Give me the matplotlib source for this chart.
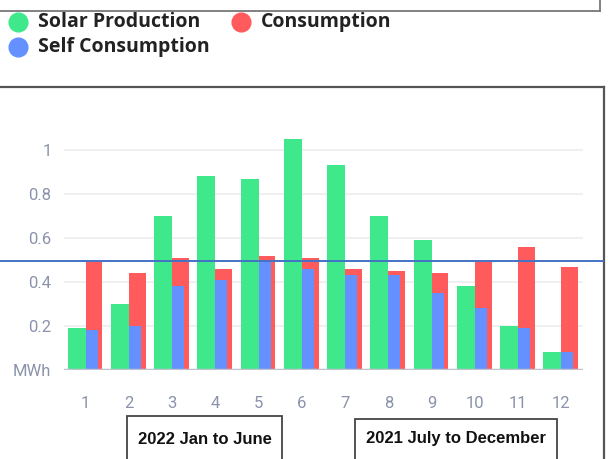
import numpy as np
import matplotlib
matplotlib.use('Agg')
import matplotlib.pyplot as plt
from matplotlib.lines import Line2D
from matplotlib.patches import Rectangle
import matplotlib.transforms as mtransforms

# data (MWh per month)
months = ['1', '2', '3', '4', '5', '6', '7', '8', '9', '10', '11', '12']
solar = [0.19, 0.30, 0.70, 0.88, 0.87, 1.05, 0.93, 0.70, 0.59, 0.38, 0.20, 0.08]
consumption = [0.49, 0.44, 0.51, 0.46, 0.52, 0.51, 0.46, 0.45, 0.44, 0.49, 0.56, 0.47]
self_cons = [0.18, 0.20, 0.38, 0.41, 0.49, 0.46, 0.43, 0.43, 0.35, 0.28, 0.19, 0.08]
y_ticks = [0, 0.2, 0.4, 0.6, 0.8, 1.0]
y_labels = ['MWh', '0.2', '0.4', '0.6', '0.8', '1']
ref_level = 0.495
period_labels = ['2022 Jan to June', '2021 July to December']

green = '#40E88C'
red = '#FF5A5C'
blue = '#6491FF'
tick_col = '#8A93AB'

W, H = 608, 459
def fx(px):
    return px / W
def fy(py):
    return 1 - py / H

fig = plt.figure(figsize=(W / 100, H / 100), dpi=100)
fig.patch.set_facecolor('white')

# axes: x 64..583 px, y baseline at 370 px
ax = fig.add_axes([fx(64), fy(370), (583 - 64) / W, (370 - 100) / H])
x = np.arange(len(months))
ax.bar(x - 0.415, solar, width=0.415, align='edge', color=green, zorder=2)
ax.bar(x, consumption, width=0.39, align='edge', color=red, zorder=2)
ax.bar(x, self_cons, width=0.28, align='edge', color=blue, zorder=3)

ax.set_xlim(-0.5, len(months) - 0.5)
ax.set_ylim(0, 270 / 220)
ax.set_yticks(y_ticks)
ax.set_yticklabels(y_labels)
ax.set_xticks(x)
ax.set_xticklabels(months)
ax.tick_params(axis='both', length=0, colors=tick_col, labelsize=12)
ax.tick_params(axis='x', pad=19)
ax.tick_params(axis='y', pad=9)
for lab in ax.get_xticklabels() + ax.get_yticklabels():
    lab.set_family('Roboto')
for s in ax.spines.values():
    s.set_visible(False)
for v in y_ticks[1:]:
    ax.axhline(v, color='#EDEDED', lw=1.2, zorder=0)
ax.axhline(0, color='#BFC3CF', lw=2.5, zorder=4)

# horizontal reference line across the whole picture
tr = mtransforms.blended_transform_factory(fig.transFigure, ax.transData)
fig.add_artist(Line2D([0, fx(603)], [ref_level, ref_level], transform=tr,
                      color='#4472C4', lw=1.4, zorder=10))

# frame around the chart and the box above it
frame = '#555555'
fig.add_artist(Line2D([0, fx(604)], [fy(87), fy(87)], transform=fig.transFigure, color=frame, lw=1.6))
fig.add_artist(Line2D([fx(604), fx(604)], [fy(87), 0], transform=fig.transFigure, color=frame, lw=1.6))
fig.add_artist(Line2D([0, fx(600)], [fy(11), fy(11)], transform=fig.transFigure, color='#777777', lw=1.3))
fig.add_artist(Line2D([fx(600), fx(600)], [1, fy(11)], transform=fig.transFigure, color='#777777', lw=1.3))

# legend
leg = [('Solar Production', green, 18, 22), ('Consumption', red, 241, 22),
       ('Self Consumption', blue, 18, 47)]
for name, c, px, py in leg:
    fig.add_artist(Line2D([fx(px)], [fy(py)], transform=fig.transFigure, marker='o',
                          markersize=13.5, color=c, linestyle='none'))
    fig.text(fx(px + 20), fy(py), name, ha='left', va='center', fontsize=14,
             fontweight='bold', color='#222222', family=['Open Sans', 'DejaVu Sans'])

# period boxes under the axis
boxes = [(127, 282, 416), (355, 557, 419)]
for (x0, x1, top), txt in zip(boxes, period_labels):
    fig.add_artist(Rectangle((fx(x0), -0.05), fx(x1) - fx(x0), fy(top) + 0.05,
                             transform=fig.transFigure, fill=False, ec='#444444', lw=1.3))
    fig.text(fx((x0 + x1) / 2), fy(439), txt, ha='center', va='center', fontsize=12,
             fontweight='bold', color='#111111',
             family=['Liberation Sans', 'DejaVu Sans'])

fig.savefig('out.png', dpi=100)
